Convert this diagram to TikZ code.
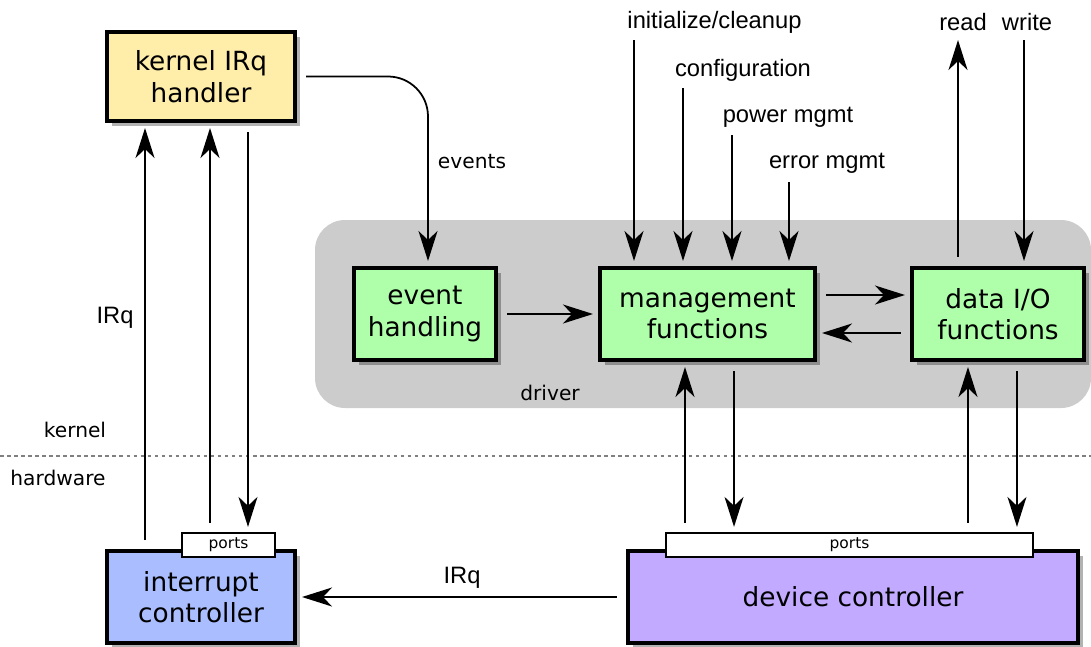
\documentclass[tikz,border=0pt]{standalone}
\usepackage{fontspec}
\setmainfont{DejaVu Sans}
\newfontfamily\arialfont{Liberation Sans}
\usetikzlibrary{positioning}
\usetikzlibrary{arrows.meta}
\usetikzlibrary{shadows}
\definecolor{drvgray}{RGB}{204, 204, 204}
\definecolor{kyellow}{RGB}{255, 238, 170}
\definecolor{fgreen}{RGB}{175, 255, 170}
\definecolor{iblue}{RGB}{170, 190, 255}
\definecolor{dpurple}{RGB}{193, 170, 255}

\begin{document}
\begin{tikzpicture}
  [
    x = 0.02cm, y = -0.02cm,
    arr/.style  = {draw, line width=1pt, -{Stealth[length=0.6cm, width=0.38cm, inset=0.18cm]}, shorten >=0.1cm},
    link/.style = {arr, shorten <=0.18cm},
    box/.style  = {rectangle, draw, line width=2.3pt, align=center, inner sep=0pt,
                   font=\fontsize{15pt}{18pt}\selectfont,
                   drop shadow={shadow xshift=0.1cm, shadow yshift=-0.1cm, fill=black, opacity=0.3}},
    port/.style = {rectangle, draw, fill=white, line width=1pt, inner sep=0pt,
                   minimum height=0.49cm, font=\fontsize{8.8pt}{10pt}\selectfont},
    lbl/.style  = {inner sep=0pt, font=\fontsize{11.5pt}{14pt}\selectfont},
    albl/.style = {inner sep=0pt, font=\arialfont\fontsize{13.5pt}{16pt}\selectfont}
  ]
  \useasboundingbox (0,0) rectangle (1091,646);

  % driver area and kernel/hardware split
  \fill[drvgray, rounded corners=0.6cm] (315,220) rectangle (1091,408);
  \node[lbl] (drv) at (550,393) {driver};
  \draw[gray, line width=0.7pt, dash pattern=on 2pt off 2pt] (0,456) -- (1091,456);
  \node[lbl] (kern) at (75,430) {kernel};
  \node[lbl] (hw) at (58,478) {hardware};

  \begin{scope}[node distance=2cm]
  \node [box, fill=kyellow, minimum width=3.76cm, minimum height=1.78cm] (kh) at (201,76.5) {kernel IRq\\handler};
  \node [box, fill=fgreen, minimum width=2.84cm, minimum height=1.84cm] (evt) at (425,314) {event\\handling};
  \node [box, fill=fgreen, minimum width=4.3cm, minimum height=1.84cm] (mgmt) [right=2cm of evt] {management\\functions};
  \node [box, fill=fgreen, minimum width=3.44cm, minimum height=1.84cm] (dio) [right=1.86cm of mgmt] {data I/O\\functions};
  \node [box, fill=iblue, minimum width=3.76cm, minimum height=1.84cm] (ic) at (201,597) {interrupt\\controller};
  \node [box, fill=dpurple, minimum width=9cm, minimum height=1.84cm] (dc) at (853,597) {device controller};
  \node [port, minimum width=1.86cm] (p1) at (228.5,545) {ports};
  \node [port, minimum width=7.34cm] (p2) at (849.5,545) {ports};
  \end{scope}

  % inputs from above
  \node[albl] (init) at (714.5,22) {initialize/cleanup};
  \node[albl] (conf) at (743,70) {configuration};
  \node[albl] (pwr) at (788,117) {power mgmt};
  \node[albl] (err) at (827,163) {error mgmt};
  \node[albl] (rd) at (963,22) {read};
  \node[albl] (wr) at (1027,22) {write};
  \coordinate (cinit) at (634,40);
  \coordinate (cconf) at (683,88);
  \coordinate (cpwr) at (732,135);
  \coordinate (cerr) at (789,182);
  \coordinate (crd) at (958,35);
  \coordinate (cwr) at (1024,40);
  \draw[arr] (cinit) -- (cinit |- mgmt.north);
  \draw[arr] (cconf) -- (cconf |- mgmt.north);
  \draw[arr] (cpwr) -- (cpwr |- mgmt.north);
  \draw[arr] (cerr) -- (cerr |- mgmt.north);
  \draw[link] ([xshift=-0.8cm]dio.north) -- (crd);
  \draw[arr] (cwr) -- (cwr |- dio.north);

  % inside the driver
  \draw[link] (evt) -- (mgmt);
  \draw[link] ([yshift=0.38cm]mgmt.east) -- ([yshift=0.38cm]dio.west);
  \draw[link] ([yshift=-0.38cm]dio.west) -- ([yshift=-0.38cm]mgmt.east);

  % interrupt path
  \draw[link, rounded corners=0.8cm] (kh.east) -| ([xshift=0.06cm]evt.north);
  \node[lbl] (ev) at (472,162) {events};
  \draw[link] ([xshift=-1.12cm]ic.north) -- ([xshift=-1.12cm]kh.south);
  \draw[link] ([xshift=-0.37cm]p1.north) -- ([xshift=0.18cm]kh.south);
  \draw[link] ([xshift=0.94cm]kh.south) -- ([xshift=0.39cm]p1.north);
  \node[albl] (irq1) at (115,318) {IRq};
  \draw[link] (dc) -- (ic);
  \node[albl] (irq2) at (462,578) {IRq};

  % hardware ports
  \draw[link] ([xshift=-3.29cm]p2.north) -- ([xshift=-0.45cm]mgmt.south);
  \draw[link] ([xshift=0.53cm]mgmt.south) -- ([xshift=-2.31cm]p2.north);
  \draw[link] ([xshift=2.37cm]p2.north) -- ([xshift=-0.6cm]dio.south);
  \draw[link] ([xshift=0.38cm]dio.south) -- ([xshift=3.35cm]p2.north);
\end{tikzpicture}
\end{document}
